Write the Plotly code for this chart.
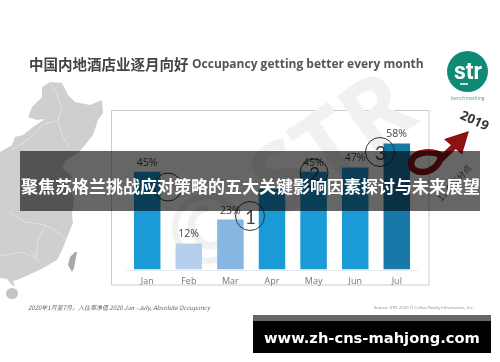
import plotly.graph_objects as go

W, H = 500, 362
months = ["Jan", "Feb", "Mar", "Apr", "May", "Jun", "Jul"]
occupancy = [45, 12, 23, 37, 45, 47, 58]
labels = ["45%", "12%", "23%", "", "45%", "47%", "58%"]
bar_colors = ["#1a9ad6", "#b5d0ec", "#85b7e2", "#1a9ad6", "#1a9ad6", "#1a9ad6", "#1878a8"]

title_cn = "中国内地酒店业逐月向好"
title_en = "Occupancy getting better every month"
banner_text = "聚焦苏格兰挑战应对策略的五大关键影响因素探讨与未来展望"
site_text = "www.zh-cns-mahjong.com"
foot_left = "2020年1月至7月，入住率净值 2020 Jan –July, Absolute Occupancy"
foot_right = "Source: STR. 2020 © CoStar Realty Information, Inc."

def X(x): return x / W
def Y(y): return 1 - y / H
def P(pts, close=True):
    return "M" + " L".join(f"{X(x):.4f},{Y(y):.4f}" for x, y in pts) + (" Z" if close else "")

mainland = [(0,152),(12,145),(15,137),(23,135),(33,127),(45,119),(37,120),(28,117),(32,107),(42,97),(42,87),
            (50,82),(62,83),(68,95),(75,102),(90,105),(102,100),(103,113),(98,120),(93,135),(85,145),(78,153),
            (66,160),(62,168),(72,176),(68,186),(74,198),(72,215),(73,223),(68,235),(63,248),(57,260),(43,268),
            (33,273),(17,280),(13,281),(15,287),(11,284),(7,279),(0,278)]
taiwan = [(75,252),(77,252),(74,268),(72,272),(68,265),(70,257)]
province_lines = [[(50,83),(56,92),(62,108),(58,120),(62,135),(70,148)],
                  [(58,120),(42,125),(30,138),(12,150)],
                  [(10,213),(25,222),(45,225),(38,240),(36,258)],
                  [(36,258),(22,252),(0,256)],
                  [(45,225),(58,232),(66,240)],
                  [(40,262),(30,250)]]

fig = go.Figure(go.Bar(x=months, y=occupancy, marker=dict(color=bar_colors, line_width=0),
                       text=labels, textposition="outside", cliponaxis=False,
                       textfont=dict(family="Open Sans", size=10.5, color="#444"), hoverinfo="skip"))

shapes = []
# map
shapes.append(dict(type="path", path=P(mainland), xref="paper", yref="paper", fillcolor="#cfcfcf", line_width=0, layer="below"))
shapes.append(dict(type="path", path=P(taiwan), xref="paper", yref="paper", fillcolor="#a9a9a9", line_width=0, layer="below"))
shapes.append(dict(type="circle", xref="paper", yref="paper", x0=X(6), x1=X(18), y0=Y(299), y1=Y(288), fillcolor="#c4c4c4", line_width=0, layer="below"))
for line in province_lines:
    shapes.append(dict(type="path", path=P(line, False), xref="paper", yref="paper", line=dict(color="#e2e2e2", width=1), layer="below"))
# card
shapes.append(dict(type="rect", xref="paper", yref="paper", x0=X(111.5), x1=X(429), y0=Y(285), y1=Y(110.5),
                   line=dict(color="#cccccc", width=1), fillcolor="#ffffff", layer="below"))
# watermark
shapes.append(dict(type="rect", xref="paper", yref="paper", x0=X(135), x1=X(445), y0=Y(280), y1=Y(70),
                   line_width=0, fillcolor="rgba(0,0,0,0)", layer="below",
                   label=dict(text="© STR", textangle=-35, textposition="middle center",
                              font=dict(family="Open Sans", size=96, color="#f1f1f1", weight="bold"))))
# annotation circles
for cx, cy, r in [(168,187,14),(250,216,14.5),(314,173,14),(380,152,14.5)]:
    shapes.append(dict(type="circle", xref="paper", yref="paper", x0=X(cx-r), x1=X(cx+r), y0=Y(cy+r), y1=Y(cy-r),
                       line=dict(color="#333", width=1), fillcolor="rgba(0,0,0,0)"))
# logo
shapes.append(dict(type="circle", xref="paper", yref="paper", x0=X(447), x1=X(488), y0=Y(92), y1=Y(51), fillcolor="#118a75", line_width=0))
shapes.append(dict(type="line", xref="paper", yref="paper", x0=X(460), x1=X(468), y0=Y(84), y1=Y(84), line=dict(color="#ffffff", width=1.5)))
# red arrow
shapes.append(dict(type="path", xref="paper", yref="paper", line=dict(color="#8f1212", width=6.5),
                   path=f"M{X(464)},{Y(137)} L{X(443)},{Y(157)} C{X(436)},{Y(150)} {X(412)},{Y(150)} {X(411)},{Y(163)} C{X(411)},{Y(176)} {X(436)},{Y(176)} {X(441)},{Y(157)}"))
shapes.append(dict(type="path", xref="paper", yref="paper", line=dict(color="#8f1212", width=4), fillcolor="#8f1212",
                   path=f"M{X(448)},{Y(140)} L{X(466)},{Y(134)} L{X(461)},{Y(151)} Z"))
# bottom site strip
shapes.append(dict(type="rect", xref="paper", yref="paper", x0=X(253), x1=X(491), y0=Y(353), y1=Y(321), fillcolor="#000000", line_width=0))
shapes.append(dict(type="rect", xref="paper", yref="paper", x0=X(253), x1=X(491), y0=Y(321), y1=Y(315), fillcolor="#666666", line_width=0))

def note(x, y, text, size, color, family="Open Sans", anchor="center", **kw):
    return dict(xref="paper", yref="paper", x=X(x), y=Y(y), text=text, showarrow=False, xanchor=anchor, yanchor="middle",
                font=dict(family=family, size=size, color=color), **kw)

ann = [
    note(27, 63, f"<b>{title_cn}</b>", 14.5, "#444444", "Noto Sans CJK SC", "left"),
    note(190, 63.5, f"<b>{title_en}</b>", 12, "#555555", "Open Sans", "left"),
    note(468, 72, "<b>str</b>", 23, "#ffffff", "Roboto"),
    note(468, 98, "benchmarking", 5, "#5f9d90", "Open Sans"),
    note(475, 120, "<b>2019</b>", 13, "#333333", "Open Sans", textangle=25),
    note(454, 182, "13 个百分点", 8.5, "#555555", "Noto Sans CJK SC", textangle=-48),
    note(250, 216, "1", 19, "#444444", "Lato"),
    note(314, 173, "2", 19, "#444444", "Lato"),
    note(380, 152, "3", 19, "#444444", "Lato"),
    note(26, 307, f"<i>{foot_left}</i>", 6, "#666666", "Noto Sans CJK SC", "left"),
    note(372, 307, foot_right, 4.2, "#888888", "Open Sans", "left"),
    note(250, 181, " ", 10, "#ffffff", width=460, height=60, bgcolor="rgba(0,0,0,0.6)", borderpad=0, borderwidth=0),
    note(250, 185, f"<b>{banner_text}</b>", 17, "#ffffff", "Noto Sans CJK SC"),
    note(372, 337, f"<b>{site_text}</b>", 14.7, "#ffffff", "DejaVu Sans"),
]

fig.update_layout(
    width=W, height=H, margin=dict(l=0, r=0, t=0, b=0), paper_bgcolor="#ffffff", plot_bgcolor="rgba(0,0,0,0)",
    showlegend=False, bargap=0.363, shapes=shapes, annotations=ann,
    font=dict(family="Open Sans"),
    xaxis=dict(domain=[X(126.4), X(417.6)], showgrid=False, zeroline=False, showline=True, linecolor="#e6ecf2", linewidth=1,
               ticks="outside", ticklen=3, tickcolor="rgba(0,0,0,0)",
               tickfont=dict(family="Open Sans", size=9, color="#777777"), fixedrange=True),
    yaxis=dict(domain=[Y(269.5), Y(134.8)], range=[0, 62], visible=False, fixedrange=True),
)
fig.write_html("out.html", config={"displayModeBar": False},
               post_script="document.documentElement.style.overflow='hidden';document.body.style.margin='0';document.body.style.filter='blur(0.4px)';")
